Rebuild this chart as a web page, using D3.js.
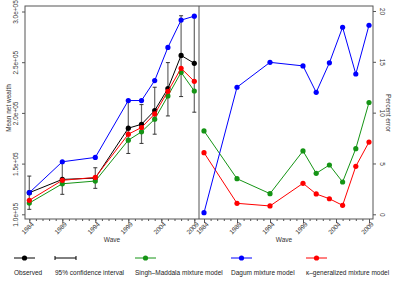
<!DOCTYPE html>
<html>
<head>
<meta charset="utf-8">
<script src="https://cdn.jsdelivr.net/npm/d3@7"></script>
<style>
  body { margin: 0; background: #fff; }
  svg { font-family: "Liberation Sans", Arial, sans-serif; }
</style>
</head>
<body>
<svg id="chart" width="399" height="290"></svg>
<script>
// waves of the survey
const waves = [1984, 1989, 1994, 1999, 2001, 2003, 2005, 2007, 2009];
const waveTicks = [1984, 1989, 1994, 1999, 2004, 2009];

// mean net wealth (left panel)
const observed = [121300, 134400, 135700, 184900, 188800, 202300, 224000, 256700, 248900];
const ciLow    = [104900, 119700, 125600, 160000, 169900, 179000, 197000, 216100, 200700];
const ciHigh   = [137700, 151800, 145900, 212200, 208200, 225300, 249600, 295800, 295400];
const singhMaddala = [111100, 130100, 132800, 173100, 181300, 193800, 216700, 240000, 221600];
const dagum        = [121300, 151800, 156100, 212200, 212200, 231900, 264600, 291500, 295400];
const kappaGen     = [113800, 133500, 136400, 179000, 185600, 199000, 221300, 244000, 231100];
const wealthTicks = [100000, 150000, 200000, 250000, 300000];

// percent error (right panel)
const errSinghMaddala = [8.2, 3.5, 2.03, 6.23, 4.03, 4.85, 3.18, 6.46, 11.0];
const errDagum        = [0.16, 12.5, 14.95, 14.6, 12.0, 14.9, 18.4, 13.8, 18.6];
const errKappaGen     = [6.06, 1.08, 0.82, 3.05, 2.0, 1.53, 0.88, 4.72, 7.11];
const errTicks = [0, 5, 10, 15, 20];

const legendItems = [
  { label: "Observed", color: "#000", type: "point" },
  { label: "95% confidence interval", color: "#000", type: "ci" },
  { label: "Singh\u2013Maddala mixture model", color: "#159415", type: "point" },
  { label: "Dagum mixture model", color: "#0000ff", type: "point" },
  { label: "\u03ba\u2013generalized mixture model", color: "#ff0000", type: "point" }
];
const legendX = [14, 55, 135, 231, 306];

const svg = d3.select("#chart");
const frame = "#555";
const pTop = 6, pBottom = 219, pLeft = 25, pMid = 199, pRight = 373;

const xL = d3.scaleLinear().domain([1984, 2009]).range([29.3, 194.3]);
const xR = d3.scaleLinear().domain([1984, 2009]).range([204, 369]);
const yL = d3.scaleLinear().domain([100000, 300000]).range([214.3, 11.5]);
const yR = d3.scaleLinear().domain([0, 20]).range([214.3, 11]);

const line = (x, y) => d3.line().x((d, i) => x(waves[i])).y(d => y(d));

function series(g, vals, x, y, color) {
  g.append("path").datum(vals)
    .attr("d", line(x, y))
    .attr("fill", "none").attr("stroke", color).attr("stroke-width", 1);
  g.selectAll(null).data(vals).join("circle")
    .attr("cx", (d, i) => x(waves[i])).attr("cy", d => y(d))
    .attr("r", 2.6).attr("fill", color);
}

// x axes with yearly minor ticks
function xAxis(x) {
  const g = svg.append("g").attr("transform", `translate(0,${pBottom})`);
  g.call(d3.axisBottom(x).tickValues(d3.range(1984, 2010)).tickSize(2).tickFormat(""))
    .call(a => a.select(".domain").remove());
  g.selectAll(".tick line").attr("stroke", frame);
  const gm = svg.append("g").attr("transform", `translate(0,${pBottom})`);
  gm.call(d3.axisBottom(x).tickValues(waveTicks).tickSize(4).tickFormat(d3.format("d")))
    .call(a => a.select(".domain").remove());
  gm.selectAll(".tick line").attr("stroke", frame);
  gm.selectAll(".tick text")
    .attr("font-size", 6.5).attr("fill", "#333")
    .attr("text-anchor", "end")
    .attr("transform", "translate(3,4) rotate(-45)")
    .attr("y", 0).attr("dy", "0.35em").attr("x", 0);
}
xAxis(xL);
xAxis(xR);

// left y axis
const ga = svg.append("g").attr("transform", `translate(${pLeft},0)`)
  .call(d3.axisLeft(yL).tickValues(wealthTicks).tickSize(3)
    .tickFormat(d => d3.format(".1e")(d).replace("e+5", "e+05")));
ga.select(".domain").remove();
ga.selectAll(".tick line").attr("stroke", frame);
ga.selectAll(".tick text").attr("font-size", 6.5).attr("fill", "#333")
  .attr("text-anchor", "middle").attr("x", 0).attr("dy", 0)
  .attr("transform", "translate(-7,0) rotate(-90)");

// right y axis
const gr = svg.append("g").attr("transform", `translate(${pRight},0)`)
  .call(d3.axisRight(yR).tickValues(errTicks).tickSize(3));
gr.select(".domain").remove();
gr.selectAll(".tick line").attr("stroke", frame);
gr.selectAll(".tick text").attr("font-size", 6.5).attr("fill", "#333")
  .attr("text-anchor", "middle").attr("x", 0).attr("dy", 0)
  .attr("transform", "translate(7,0) rotate(90)");

// axis titles
svg.append("text").attr("transform", "translate(11,108) rotate(-90)")
  .attr("text-anchor", "middle").attr("font-size", 6.5).attr("fill", "#333").text("Mean net wealth");
svg.append("text").attr("transform", "translate(386,113) rotate(90)")
  .attr("text-anchor", "middle").attr("font-size", 6.5).attr("fill", "#333").text("Percent error");
svg.append("text").attr("x", (pLeft + pMid) / 2).attr("y", 242)
  .attr("text-anchor", "middle").attr("font-size", 6.5).attr("fill", "#333").text("Wave");
svg.append("text").attr("x", (pMid + pRight) / 2 - 2).attr("y", 242)
  .attr("text-anchor", "middle").attr("font-size", 6.5).attr("fill", "#333").text("Wave");

// left panel
const gl = svg.append("g");
gl.selectAll(null).data(waves).join("g").each(function(w, i) {
  const g = d3.select(this);
  const x = xL(w);
  g.append("line").attr("x1", x).attr("x2", x)
    .attr("y1", yL(ciLow[i])).attr("y2", yL(ciHigh[i]))
    .attr("stroke", "#666").attr("stroke-width", 1.2);
  [ciLow[i], ciHigh[i]].forEach(v => g.append("line")
    .attr("x1", x - 2).attr("x2", x + 2).attr("y1", yL(v)).attr("y2", yL(v))
    .attr("stroke", "#333").attr("stroke-width", 1));
});
series(gl, observed, xL, yL, "#000");
series(gl, singhMaddala, xL, yL, "#159415");
series(gl, kappaGen, xL, yL, "#ff0000");
series(gl, dagum, xL, yL, "#0000ff");

// right panel
const gp = svg.append("g");
series(gp, errSinghMaddala, xR, yR, "#159415");
series(gp, errKappaGen, xR, yR, "#ff0000");
series(gp, errDagum, xR, yR, "#0000ff");

// frame
svg.append("rect").attr("x", pLeft).attr("y", pTop)
  .attr("width", pRight - pLeft).attr("height", pBottom - pTop)
  .attr("fill", "none").attr("stroke", frame).attr("stroke-width", 1);
svg.append("line").attr("x1", pMid).attr("x2", pMid).attr("y1", pTop).attr("y2", pBottom)
  .attr("stroke", frame).attr("stroke-width", 1);

// legend
const lg = svg.append("g");
legendItems.forEach((d, i) => {
  const x0 = legendX[i];
  const g = lg.append("g");
  g.append("line").attr("x1", x0).attr("x2", x0 + 21).attr("y1", 258).attr("y2", 258)
    .attr("stroke", d.color).attr("stroke-width", 1);
  if (d.type === "point") {
    g.append("circle").attr("cx", x0 + 10.5).attr("cy", 258).attr("r", 2.6).attr("fill", d.color);
  } else {
    [x0, x0 + 21].forEach(x => g.append("line").attr("x1", x).attr("x2", x)
      .attr("y1", 256).attr("y2", 260).attr("stroke", d.color));
  }
  g.append("text").attr("x", x0).attr("y", 275).attr("font-size", 6.5).attr("fill", "#222").text(d.label);
});
</script>
</body>
</html>
